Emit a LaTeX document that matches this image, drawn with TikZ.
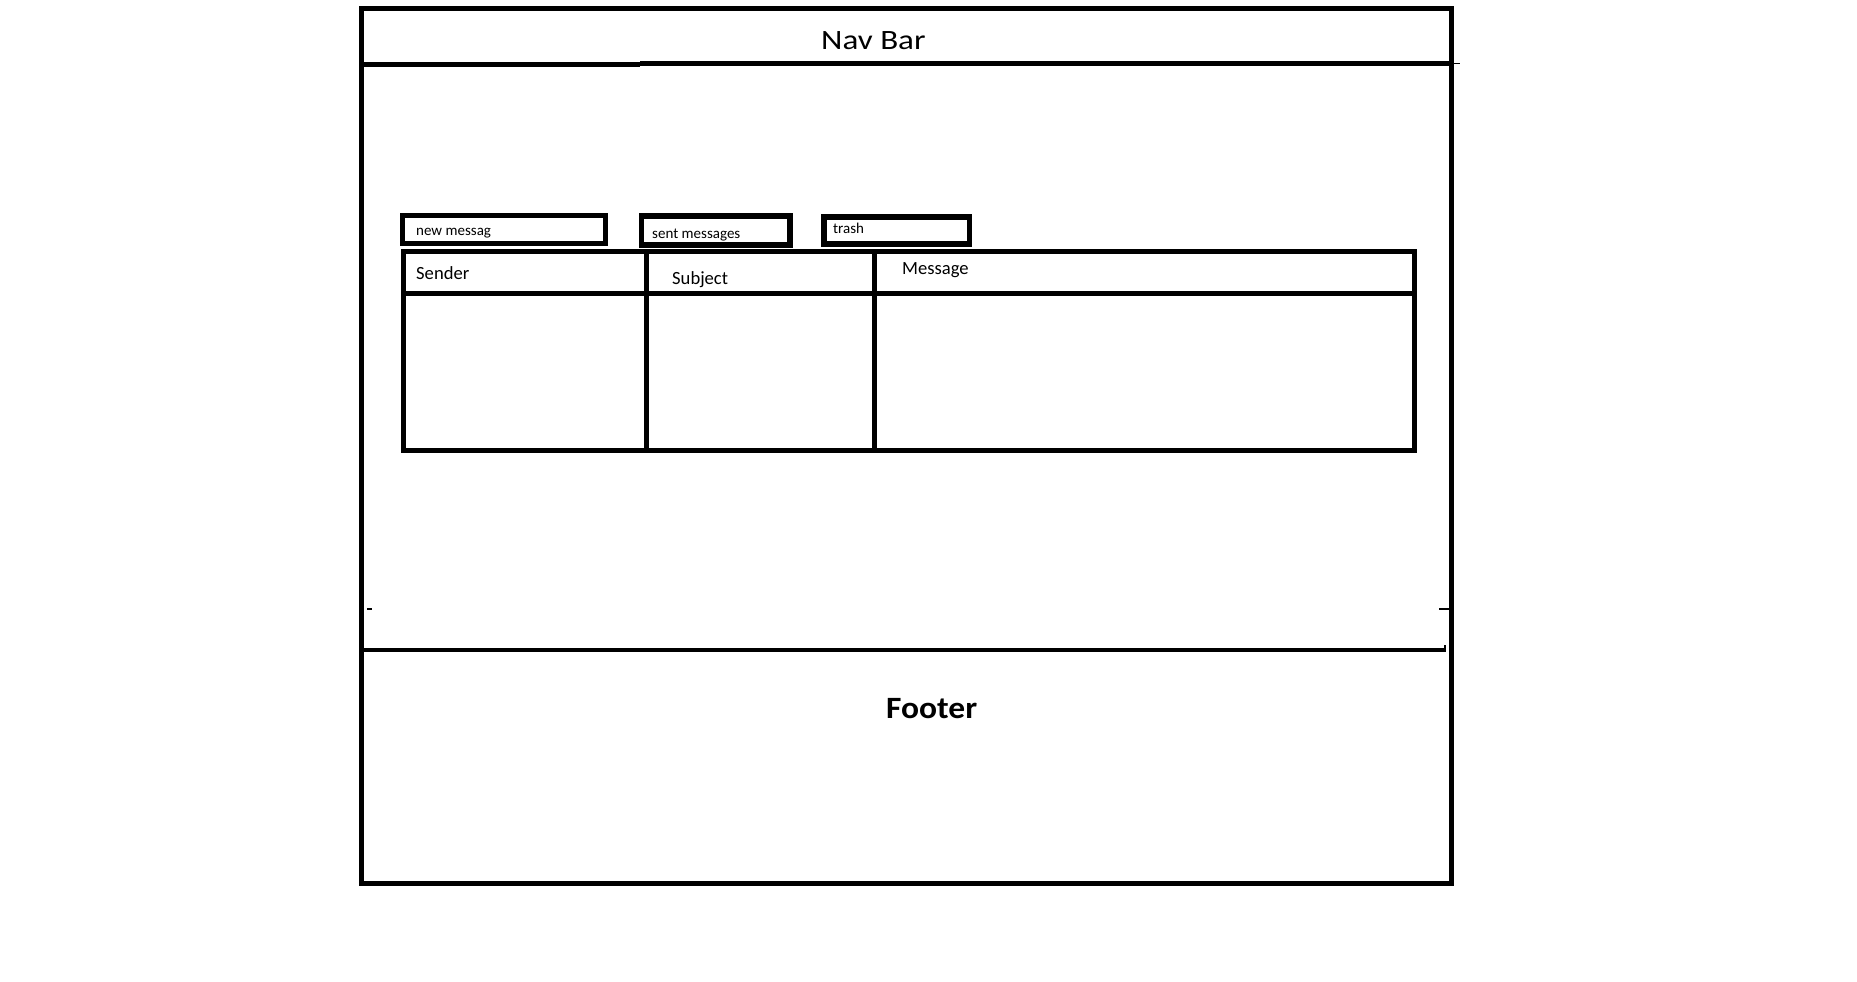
\documentclass[tikz,border=0pt]{standalone}
\usepackage{fontspec}
\setmainfont{Carlito}
\begin{document}
\begin{tikzpicture}[x=1pt,y=-1pt,
  thick line/.style={line width=5pt,draw=black},
  btn/.style={line width=5.5pt,draw=black},
  thin line/.style={line width=1.2pt,draw=black},
  btntext/.style={anchor=base west,inner sep=0pt,font=\fontsize{15}{18}\selectfont},
  headtext/.style={anchor=base west,inner sep=0pt,font=\fontsize{18.6}{22}\selectfont}]
\useasboundingbox[fill=white] (0,0) rectangle (1857,982);
% outer frame
\draw[thick line] (361.5,8.5) rectangle (1451.5,883.5);
% nav bar line (slightly stepped)
\draw[thick line] (361.5,65) -- (640,65);
\draw[thick line] (640,64) -- (1188,64);
\draw[thick line] (1188,63.5) -- (1451.5,63.5);
\draw[thin line] (1451.5,63.5) -- (1460,63.5);
\node[anchor=base west,inner sep=0pt,xscale=1.18,font=\fontsize{28}{32}\selectfont] (nav) at (821,49) {Nav Bar};
% small ticks above footer
\draw[thin line] (367,609) -- (372,609);
\draw[thin line] (1439,609) -- (1453,609);
% footer line
\draw[line width=4.5pt] (361.5,650) -- (1445,650);
\draw[thin line] (1445,645) -- (1445,652);
\node[anchor=base west,inner sep=0pt,xscale=1.08,font=\bfseries\fontsize{31}{36}\selectfont] (footer) at (886,718) {Footer};
% buttons
\draw[btn] (402.5,215.5) rectangle (605.5,243.5);
\node[btntext] (newmsg) at (416,235) {new messag};
\draw[btn] (641.5,216) rectangle (790,245);
\node[btntext] (sent) at (652,238) {sent messages};
\draw[btn] (824,217) rectangle (969.5,244);
\node[btntext] (trash) at (833,233) {trash};
% table
\draw[thick line] (403.5,251) rectangle (1414.5,450.5);
\draw[thick line] (403.5,293.5) -- (1414.5,293.5);
\draw[thick line] (646.5,251) -- (646.5,450.5);
\draw[thick line] (874.5,251) -- (874.5,450.5);
\node[headtext] (sender) at (416,279) {Sender};
\node[headtext] (subject) at (672,284) {Subject};
\node[headtext] (message) at (902,274) {Message};
\end{tikzpicture}
\end{document}
